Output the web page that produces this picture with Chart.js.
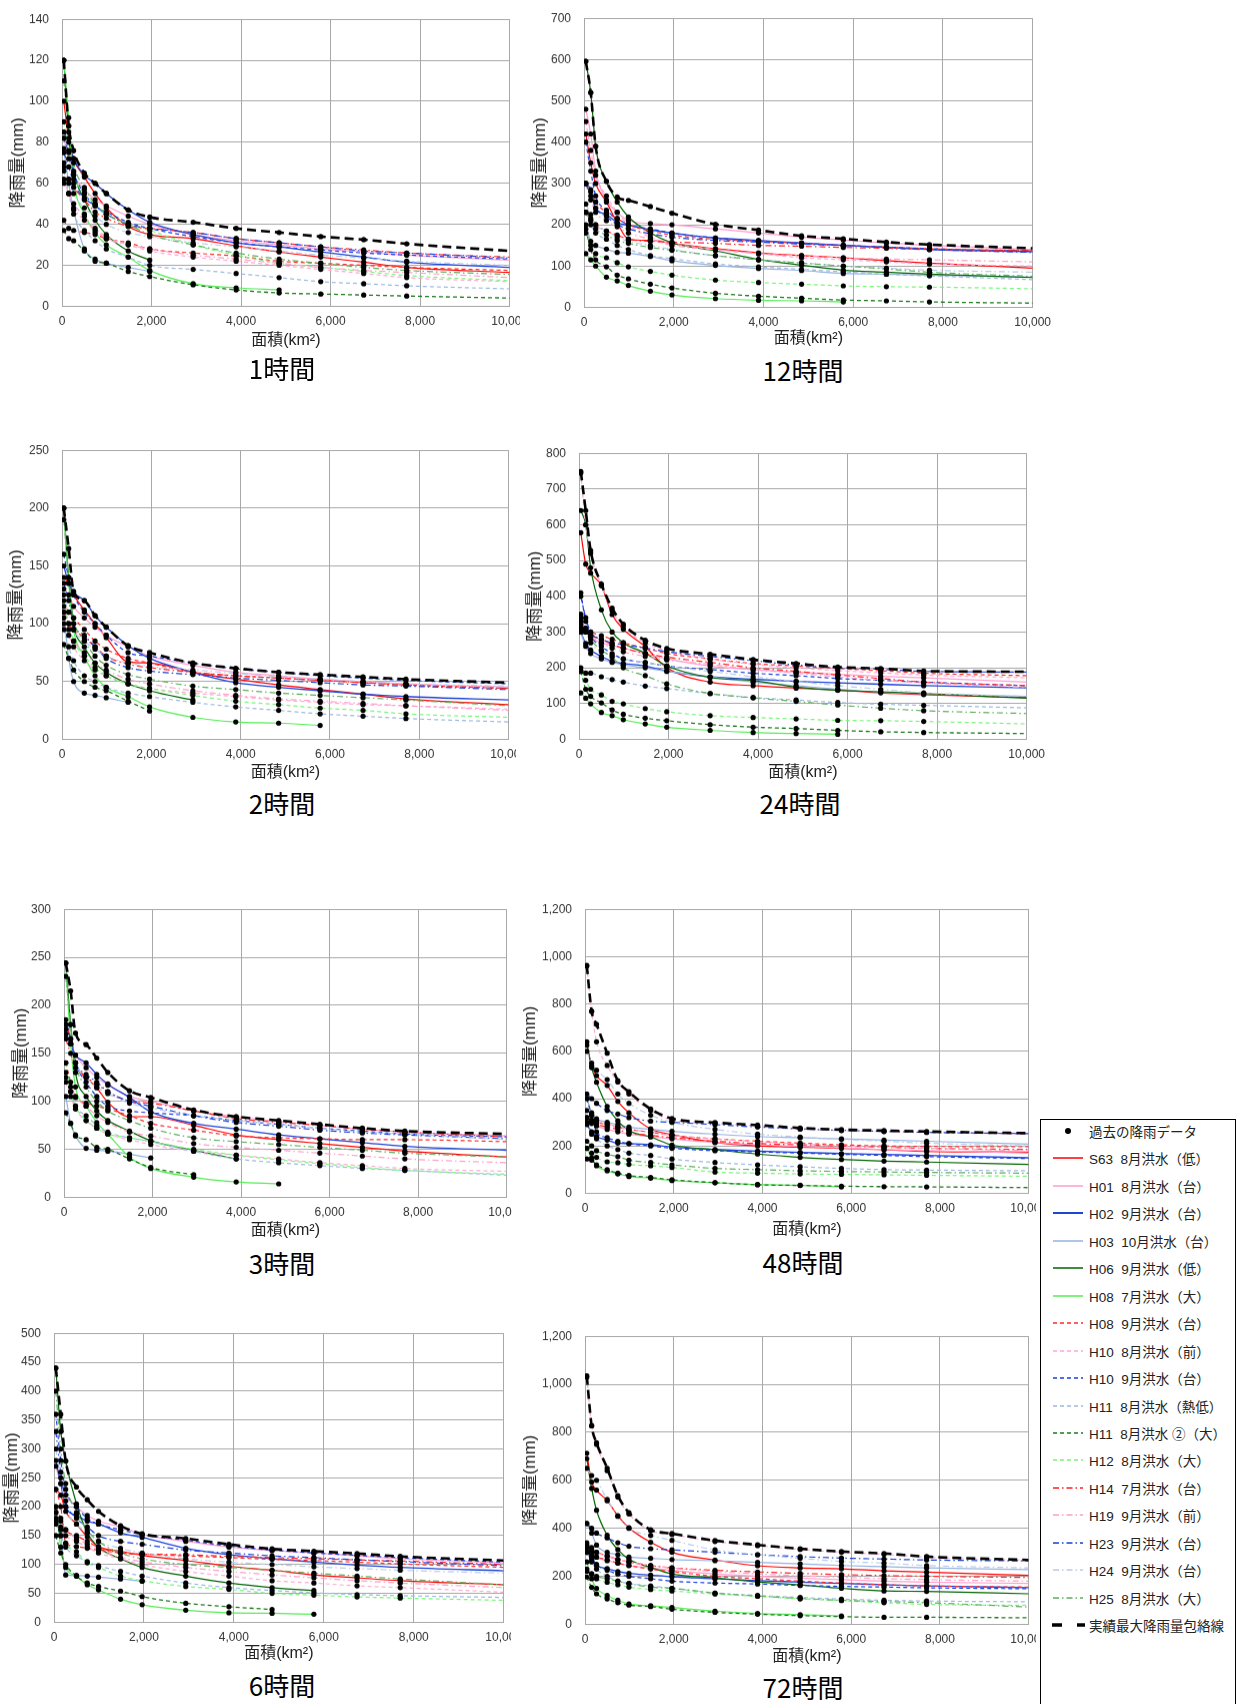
<!DOCTYPE html>
<html lang="ja">
<head>
<meta charset="utf-8">
<script src="https://cdn.jsdelivr.net/npm/chart.js@4.4.1/dist/chart.umd.min.js"></script>
<style>
  html, body { margin: 0; padding: 0; background: #fff; }
  body { width: 1242px; height: 1704px; position: relative; overflow: hidden;
         font-family: 'Liberation Sans', 'Noto Sans CJK JP', sans-serif; }
  .wrap { position: absolute; overflow: hidden; }
  .ptitle { position: absolute; font-family: 'Noto Sans CJK JP', sans-serif; font-size: 26px;
            color: #000; transform: translate(-50%, -50%); white-space: nowrap; line-height: 1; }
  #legend { position: absolute; left: 1040px; top: 1119px; width: 196px; height: 600px;
            border: 1px solid #000; background: #fff; box-sizing: border-box; }
  .lrow { position: absolute; left: 0; height: 20px; display: flex; align-items: center;
          font-size: 13.5px; color: #222; white-space: pre; }
  .lrow svg { margin-left: 11px; margin-right: 4px; }
</style>
</head>
<body>
<div id="legend"></div>
<script>
// ---------------- data ----------------
const AREA = [40, 150, 260, 500, 740, 990, 1480, 1960, 2930, 3890, 4850, 5780, 6740, 7700, 10000];
const DURATIONS = ['1時間', '2時間', '3時間', '6時間', '12時間', '24時間', '48時間', '72時間'];
const Y_MAX  = [140, 250, 300, 500, 700, 800, 1200, 1200];
const Y_STEP = [20, 50, 50, 50, 100, 100, 200, 200];
const X_MAX = 10000, X_STEP = 2000;
const DOT_LABEL = '過去の降雨データ';
const ENV_LABEL = '実績最大降雨量包絡線';
const SERIES = ['S63  8月洪水（低）','H01  8月洪水（台）','H02  9月洪水（台）','H03  10月洪水（台）',
  'H06  9月洪水（低）','H08  7月洪水（大）','H08  9月洪水（台）','H10  8月洪水（前）','H10  9月洪水（台）',
  'H11  8月洪水（熱低）','H11  8月洪水 ②（大）','H12  8月洪水（大）','H14  7月洪水（台）',
  'H19  9月洪水（前）','H23  9月洪水（台）','H24  9月洪水（台）','H25  8月洪水（大）'];
const _ = null;

const rain1h = [
  [100, 82, 72, 63, 55, 48, 39, 35, 33, 29.5, 26.5, 24, 21.5, 19, 16.5],
  [82, 72, 64, 57, 52, 49, 44, 40, 35, 32, 30, 28, 26.5, 25, 22.5],
  [85, 80, 72, 64, 60, 55, 47, 41, 35, 31, 29, 26.5, 24, 21.5, 19],
  [77, 60, 47, 28, 23, 21, 19, 17, _, _, _, _, _, _, _],
  [120, 85, 66, 52, 42, 35, 27, 22.5, _, _, _, _, _, _, _],
  [120, 92, 62, 45, 36, 30, 24, 17.5, 11, 9, 8, _, _, _, _],
  [42, 38, 37, 36, 35, 33, 31, 28, 26, 24.5, 22, 21, 20, 19, 17.5],
  [60, 55, 50, 44, 38, 34, 30, 27, 24, 22, 20, 18, 16, 14, 12],
  [82, 75, 65, 55, 49, 46, 41, 38, 34, 31, 29, 27.5, 26, 25, 23],
  [66, 55, 45, 37, 32, 28, 24, 20, 18, 16, 14, 12, 11, 10, 8.5],
  [37, 33, 32, 27, 22, 21, 17, 14.5, 10.5, 8, 6.5, 6, 5.5, 5, 4],
  [90, 76, 64, 55, 50, 45, 40, 37, 30, 25, 21, 19, 17, 15, 12.5],
  [68, 62, 58, 52, 46, 43, 39, 38, 36, 33, 31, 29, 27.5, 26, 24],
  [62, 55, 48, 42, 37, 33, 30, 28, 25, 23, 21, 19, 17.5, 16.5, 14],
  [75, 68, 60, 53, 49, 45, 40, 38, 36, 33, 31, 29, 27, 26, 23.5],
  [70, 62, 55, 48, 44, 40, 36, 34, 31, 29, 27, 25, 23.5, 22, 20],
  [110, 88, 70, 58, 50, 45, 40, 35, 30, 26, 23, 21, 19, 17.5, 15.5]
];
const env1h = [120, 88, 76, 65, 60, 55, 47, 43.5, 41, 38, 36, 34, 32.5, 30.5, 27];

const rain2h = [
  [140, 135, 125, 112, 100, 88, 67, 66, 58, 52, 47, 43, 39, 35, 30],
  [130, 125, 115, 105, 97, 90, 80, 72, 64, 58, 55, 52, 50, 48, 45],
  [150, 135, 127, 120, 107, 97, 81, 70, 58, 49, 45, 42, 39, 37, 34],
  [110, 70, 50, 40, 38, 36, 32, _, _, _, _, _, _, _, _],
  [200, 140, 100, 80, 66, 58, 48, 42, 34, _, _, _, _, _, _],
  [200, 135, 95, 72, 55, 45, 37, 28, 19, 15, 14, 12, _, _, _],
  [115, 110, 105, 95, 85, 78, 70, 66, 58, 55, 53, 51, 49, 47, 44],
  [100, 90, 80, 68, 60, 55, 48, 44, 40, 37, 34, 32, 30, 29, 26],
  [160, 140, 125, 110, 100, 90, 75, 72, 66, 61, 58, 55, 53, 51, 48],
  [95, 80, 68, 55, 50, 45, 40, 37, 32, 28, 25, 22, 20, 18, 15],
  [82, 70, 60, 50, 45, 42, 33, 24.5, _, _, _, _, _, _, _],
  [120, 100, 85, 72, 62, 55, 48, 44, 38, 33, 30, 27, 25, 22, 19],
  [110, 100, 95, 88, 80, 72, 65, 62, 58, 55, 53, 51, 49, 47, 44],
  [105, 95, 85, 75, 66, 60, 52, 48, 42, 38, 35, 33, 31, 29, 25],
  [135, 120, 100, 90, 80, 70, 62, 59, 56, 53, 51, 49, 47, 46, 43],
  [125, 110, 95, 85, 78, 72, 66, 63, 60, 57, 54, 52, 50, 48, 46],
  [190, 140, 105, 85, 72, 64, 56, 52, 46, 43, 40, 38, 36, 34, 29]
];
const env2h = [200, 165, 128, 120, 107, 97, 81, 75, 66, 61.5, 58, 56, 54, 52, 49];

const rain3h = [
  [180, 165, 140, 125, 114, 99, 84, 84, 75, 65, 60, 56, 52, 48, 42],
  [170, 160, 148, 135, 125, 117, 105, 100, 90, 84, 79, 75, 71, 68, 64],
  [170, 160, 148, 140, 128, 118, 104, 89, 77, 71, 65, 61, 57, 53, 49],
  [105, 77, 64, 51, 49, 48, 45, 41, _, _, _, _, _, _, _],
  [244, 180, 130, 105, 90, 80, 69, 59, 49, 40, _, _, _, _, _],
  [244, 160, 115, 95, 78, 66, 42, 30, 21, 16, 14, _, _, _, _],
  [140, 120, 104, 98, 95, 92, 85, 77, 70, 64, 62, 61, 60, 60, 58],
  [120, 105, 92, 80, 72, 66, 60, 55, 48, 44, 40, 36, 33, 30, 27],
  [185, 165, 140, 120, 105, 95, 90, 88, 85, 80, 76, 72, 69, 66, 63],
  [130, 110, 95, 85, 75, 68, 62, 58, 48, 40, 36, 33, 30, 28, 23],
  [88, 77, 65, 60, 52, 50, 40, 31, 23.5, _, _, _, _, _, _],
  [140, 110, 95, 80, 72, 66, 62, 58, 50, 44, 39, 35, 31, 28, 24],
  [165, 150, 135, 125, 118, 110, 100, 98, 90, 82, 78, 75, 71, 68, 63],
  [125, 115, 105, 95, 85, 78, 68, 64, 56, 52, 49, 46, 43, 40, 36],
  [180, 160, 140, 128, 120, 110, 100, 95, 85, 78, 74, 70, 67, 65, 61],
  [175, 160, 140, 125, 115, 108, 98, 93, 85, 80, 76, 72, 68, 66, 60],
  [230, 180, 140, 115, 100, 90, 80, 72, 62, 58, 55, 52, 49, 46, 42]
];
const env3h = [244, 215, 171, 159, 145, 130, 111, 104, 91, 84, 80, 76, 72, 69, 66];

const rain6h = [
  [230, 220, 192, 170, 148, 131, 123, 116, 107, 97, 90, 82, 77, 72, 65],
  [270, 240, 220, 200, 185, 175, 165, 152, 140, 130, 124, 120, 115, 110, 103],
  [280, 240, 200, 185, 175, 170, 155, 147, 128, 117, 110, 104, 99, 95, 89],
  [190, 150, 82, 81, 80, 78, 75, 71, _, _, _, _, _, _, _],
  [440, 330, 279, 205, 155, 130, 110, 95, 80, 68, 60, 55, _, _, _],
  [200, 130, 95, 80, 65, 56, 40, 30.5, 21, 16.5, 15.5, 14, _, _, _],
  [230, 200, 137, 131, 128, 125, 120, 118, 115, 112, 109, 107, 104, 101, 95],
  [180, 165, 150, 140, 130, 120, 110, 100, 88, 80, 72, 68, 63, 60, 52],
  [360, 280, 230, 200, 180, 170, 160, 152, 142, 132, 125, 120, 116, 112, 104],
  [170, 150, 130, 115, 105, 98, 88, 80, 68, 60, 55, 51, 48, 46, 43],
  [150, 120, 100, 80, 68, 62, 54, 44.5, 33, 27, 22, _, _, _, _],
  [175, 160, 136, 122, 103, 95, 80, 72, 62, 57, 50, 47, 44, 42, 38],
  [200, 180, 160, 150, 140, 130, 120, 118, 117, 114, 112, 110, 108, 106, 100],
  [190, 175, 160, 145, 135, 125, 112, 105, 95, 88, 82, 77, 72, 68, 60],
  [330, 260, 210, 180, 165, 150, 140, 135, 125, 120, 115, 112, 108, 105, 98],
  [300, 250, 200, 170, 155, 140, 128, 120, 110, 104, 100, 96, 93, 90, 85],
  [400, 300, 240, 190, 160, 140, 120, 110, 100, 95, 90, 85, 80, 75, 65]
];
const env6h = [440, 360, 279, 234, 212, 192, 167, 153, 145, 135, 127, 123, 119, 114, 107];

const rain12h = [
  [420, 350, 300, 255, 205, 165, 162, 155, 142, 132, 125, 120, 113, 107, 95],
  [480, 420, 330, 260, 230, 210, 203, 200, 190, 180, 170, 163, 156, 150, 140],
  [300, 285, 240, 225, 205, 199, 188, 180, 168, 162, 156, 150, 145, 140, 135],
  [200, 160, 150, 141, 133, 131, 123, 113, 101.5, 94, 89, 82, 80, 78, 73],
  [596, 520, 390, 305, 255, 219, 180, 156, 137, 116, 102, 90, 85, 80, 72],
  [130, 115, 100, 73, 64, 53, 39, 30, 21, 17, 15.6, 13, _, _, _],
  [300, 280, 255, 230, 215, 200, 185, 175, 165, 160, 155, 150, 146, 142, 137],
  [450, 380, 320, 270, 230, 200, 170, 155, 140, 130, 120, 115, 110, 105, 100],
  [400, 330, 270, 235, 215, 200, 190, 180, 168, 160, 155, 150, 146, 142, 135],
  [230, 200, 180, 165, 150, 140, 125, 118, 105, 98, 92, 86, 80, 76, 67],
  [190, 140, 115, 98, 78, 69, 56, 47, 34, 27, 22, 17.5, 15.5, 13, 10],
  [180, 150, 130, 120, 108, 98, 87, 78, 66, 60, 56, 52, 50, 49, 45],
  [230, 215, 200, 185, 175, 165, 160, 158, 155, 150, 148, 145, 143, 140, 138],
  [300, 260, 230, 210, 195, 180, 165, 150, 140, 130, 125, 120, 117, 115, 110],
  [300, 270, 240, 220, 200, 190, 178, 170, 162, 158, 153, 150, 145, 140, 133],
  [250, 225, 200, 185, 170, 160, 150, 140, 125, 115, 108, 100, 95, 90, 85],
  [230, 210, 190, 175, 162, 155, 145, 138, 125, 115, 107, 100, 93, 85, 75]
];
const env12h = [596, 520, 390, 305, 267, 259, 244, 228, 201, 187, 173, 166, 158, 152, 143];

const rain24h = [
  [578, 490, 465, 430, 349, 308, 259, 200, 160, 150, 143, 138, 130, 125, 117],
  [310, 300, 285, 270, 262, 255, 240, 225, 205, 195, 188, 182, 176, 172, 160],
  [300, 268, 250, 232, 218, 212, 205, 191, 175, 168, 162, 158, 154, 150, 144],
  [300, 260, 240, 225, 215, 208, 200, 190, 175, 160, 150, 140, 132, 127, 120],
  [640, 600, 480, 362, 300, 270, 241, 205, 173, 164, 146, 137, 133, 128, 115],
  [130, 115, 99, 75, 66, 55, 43, 34, 25, 19, 16, 14, _, _, _],
  [320, 310, 300, 290, 280, 270, 255, 240, 225, 212, 205, 198, 192, 185, 178],
  [745, 600, 520, 430, 360, 315, 270, 248, 225, 210, 200, 192, 186, 180, 172],
  [410, 330, 290, 260, 240, 225, 215, 205, 195, 185, 178, 170, 165, 160, 150],
  [200, 185, 185, 175, 167, 160, 149, 142, 128, 117, 110, 103, 98, 95, 88],
  [190, 140, 120, 102, 82, 70, 59, 52, 41, 34, 30, 25, 21, 19, 16],
  [190, 165, 140, 124, 106, 99, 86, 77, 66, 61, 57, 53, 52, 50, 43],
  [310, 300, 290, 280, 265, 255, 240, 230, 215, 200, 190, 180, 170, 160, 150],
  [330, 310, 290, 270, 255, 245, 232, 222, 210, 195, 185, 175, 165, 158, 145],
  [400, 340, 300, 280, 270, 265, 255, 245, 232, 220, 208, 200, 196, 190, 188],
  [350, 300, 270, 245, 235, 225, 215, 205, 190, 175, 162, 150, 140, 130, 120],
  [340, 310, 280, 250, 230, 200, 178, 155, 128, 116, 106, 96, 87, 80, 72]
];
const env24h = [749, 640, 528, 434, 367, 322, 277, 254, 238, 223, 212, 202, 198, 191, 189];

const rain48h = [
  [626, 540, 497, 456, 388, 340, 272, 248, 215, 200, 195, 190, 184, 177, 174],
  [320, 300, 285, 270, 260, 250, 240, 230, 215, 205, 198, 192, 185, 180, 170],
  [290, 260, 240, 225, 212, 210, 205, 195, 185, 178, 173, 168, 164, 160, 150],
  [400, 340, 315, 300, 290, 280, 270, 262, 250, 240, 235, 230, 225, 220, 208],
  [640, 531, 469, 367, 306, 265, 238, 204, 184, 166, 152, 143, 136, 132, 122],
  [190, 150, 116, 95, 82, 71, 64, 54, 45, 37, 34, 27, _, _, _],
  [320, 310, 300, 290, 280, 270, 258, 245, 230, 220, 212, 205, 200, 198, 197],
  [960, 769, 640, 540, 470, 420, 350, 310, 295, 285, 272, 265, 261, 257, 250],
  [400, 330, 260, 235, 220, 210, 200, 190, 180, 175, 170, 165, 160, 155, 147],
  [300, 250, 230, 200, 185, 170, 160, 145, 130, 120, 112, 105, 100, 98, 95],
  [145, 140, 120, 100, 85, 75, 67, 57, 45, 36, 33, 30, 28, 27, 24],
  [190, 170, 152, 133, 129, 122, 116, 109, 90, 85, 82, 80, 78, 76, 72],
  [300, 295, 290, 280, 270, 255, 245, 235, 220, 210, 205, 200, 195, 190, 185],
  [350, 330, 310, 295, 280, 270, 258, 245, 230, 218, 208, 200, 195, 190, 180],
  [420, 400, 380, 350, 335, 320, 305, 300, 290, 280, 272, 266, 262, 258, 252],
  [600, 550, 520, 480, 420, 380, 330, 300, 270, 250, 238, 228, 220, 212, 200],
  [220, 200, 180, 165, 155, 140, 130, 120, 105, 100, 95, 92, 90, 88, 85]
];
const env48h = [963, 769, 714, 592, 476, 429, 356, 316, 299, 288, 276, 269, 265, 261, 254];

const rain72h = [
  [713, 593, 559, 515, 452, 402, 342, 300, 268, 244, 235, 231, 223, 217, 204],
  [320, 300, 280, 265, 255, 245, 235, 225, 210, 200, 192, 186, 180, 176, 170],
  [300, 270, 245, 232, 220, 212, 205, 198, 190, 182, 176, 170, 165, 160, 153],
  [420, 380, 330, 300, 290, 280, 275, 270, 265, 258, 252, 245, 240, 235, 228],
  [690, 566, 475, 371, 311, 271, 237, 210, 193, 177, 164, 150, 139, 137, 127],
  [260, 190, 150, 120, 100, 85, 77, 70, 55, 45, 40, 35, _, _, _],
  [300, 290, 280, 270, 255, 245, 230, 220, 200, 190, 180, 172, 165, 160, 155],
  [1030, 827, 750, 640, 530, 460, 390, 375, 345, 328, 312, 300, 292, 280, 266],
  [320, 280, 250, 225, 210, 200, 190, 180, 172, 168, 162, 158, 155, 152, 148],
  [300, 260, 230, 200, 180, 170, 160, 150, 130, 120, 112, 105, 100, 97, 94],
  [197, 154, 127, 106, 90, 80, 74, 63, 50, 42, 36, 32, 29, 29, 27],
  [230, 210, 190, 175, 165, 155, 145, 139, 126, 117, 106, 99, 90, 83, 79],
  [330, 310, 300, 285, 270, 260, 245, 235, 225, 218, 212, 207, 203, 200, 195],
  [340, 320, 300, 285, 270, 260, 245, 235, 220, 210, 202, 196, 190, 186, 180],
  [420, 400, 380, 360, 340, 325, 315, 310, 300, 290, 282, 276, 272, 268, 264],
  [650, 620, 600, 520, 450, 400, 370, 350, 310, 290, 275, 262, 255, 245, 235],
  [220, 210, 200, 190, 180, 170, 155, 150, 130, 118, 108, 100, 95, 90, 72]
];
const env72h = [1035, 827, 756, 650, 536, 465, 394, 378, 349, 331, 315, 303, 295, 282, 268];

const RAIN = [rain1h, rain2h, rain3h, rain6h, rain12h, rain24h, rain48h, rain72h];
const ENV  = [env1h, env2h, env3h, env6h, env12h, env24h, env48h, env72h];

// ---------------- styles ----------------
const COLORS = ['#FF0000','#FF9ECF','#1F45D6','#95B3E0','#006400','#55EE55',
  '#FF2A2A','#FFA8D2','#1A3FE0','#9DB9E2','#1E7B1E','#77F777',
  '#FF2020','#FF9FC8','#1A40D8','#B8CCE8','#5FAF5F'];
const SOLID = [], DASH = [4, 3], DASHDOT = [6, 3, 1.5, 3];
const DASHES = [SOLID,SOLID,SOLID,SOLID,SOLID,SOLID,DASH,DASH,DASH,DASH,DASH,DASH,DASHDOT,DASHDOT,DASHDOT,DASHDOT,DASHDOT];
const WIDTHS = [1.2,1.2,1.3,1.2,1.2,1.2,1.2,1.2,1.2,1.2,1.3,1.2,1.2,1.2,1.2,1.2,1.2];
const FAMILY = "'Liberation Sans', 'Noto Sans CJK JP', sans-serif";
const GRID = '#A8A8A8';

// layout of each panel (pixels)
const PANELS = [
  {d:0, L:62,  R:512,  T:9,    B:306,  cx:0,   clip:520,  yT:18,  xT:34, tx:282, ty:368},
  {d:4, L:584, R:1035, T:8,    B:307,  cx:522, clip:1062, yT:540, xT:31, tx:803, ty:370},
  {d:1, L:62,  R:511,  T:440,  B:739,  cx:0,   clip:516,  yT:16,  xT:33, tx:282, ty:803},
  {d:5, L:579, R:1029, T:443,  B:739,  cx:522, clip:1062, yT:535, xT:33, tx:800, ty:803},
  {d:2, L:64,  R:509,  T:899,  B:1197, cx:0,   clip:512,  yT:21,  xT:33, tx:282, ty:1263},
  {d:6, L:585, R:1031, T:899,  B:1193, cx:522, clip:1036, yT:530, xT:36, tx:803, ty:1262},
  {d:3, L:54,  R:506,  T:1323, B:1622, cx:0,   clip:511,  yT:12,  xT:31, tx:282, ty:1685},
  {d:7, L:585, R:1031, T:1326, B:1624, cx:522, clip:1036, yT:530, xT:32, tx:803, ty:1687}
];

const PAD_TOP = 10, PAD_RIGHT = 24;
const X_TITLE_SIZE = 16, Y_TITLE_SIZE = 17;

function toPoints(vals) {
  return AREA.map((a, i) => ({x: a, y: vals[i]}));
}

PANELS.forEach(p => {
  const rain = RAIN[p.d], env = ENV[p.d];
  const xH = p.xT + X_TITLE_SIZE * 1.2 / 2;
  const yW = p.L - p.cx;
  const w = p.R + PAD_RIGHT - p.cx;
  const h = (p.B + xH) - (p.T - PAD_TOP);

  const wrap = document.createElement('div');
  wrap.className = 'wrap';
  wrap.style.left = p.cx + 'px';
  wrap.style.top = (p.T - PAD_TOP) + 'px';
  wrap.style.width = Math.min(w, p.clip - p.cx) + 'px';
  wrap.style.height = h + 'px';
  const cv = document.createElement('canvas');
  cv.width = w; cv.height = h;
  cv.style.width = w + 'px'; cv.style.height = h + 'px';
  wrap.appendChild(cv);
  document.body.appendChild(wrap);

  const title = document.createElement('div');
  title.className = 'ptitle';
  title.textContent = DURATIONS[p.d];
  title.style.left = p.tx + 'px';
  title.style.top = p.ty + 'px';
  document.body.appendChild(title);

  // past rainfall data points (from every series and the envelope; the last area is only a line end)
  const dots = [];
  rain.concat([env]).forEach(vals => {
    vals.forEach((v, i) => { if (v !== null && i < AREA.length - 1) dots.push({x: AREA[i], y: v}); });
  });

  const datasets = [{
    label: DOT_LABEL, data: dots, showLine: false, pointRadius: 2.6,
    pointBackgroundColor: '#000', pointBorderColor: '#000', pointBorderWidth: 0, order: 0
  }, {
    label: ENV_LABEL, data: toPoints(env), showLine: true, borderColor: '#000', borderWidth: 2.6,
    borderDash: [9, 5], pointRadius: 0, cubicInterpolationMode: 'monotone', order: 1
  }];
  rain.forEach((vals, s) => {
    datasets.push({
      label: SERIES[s], data: toPoints(vals), showLine: true, borderColor: COLORS[s],
      borderWidth: WIDTHS[s], borderDash: DASHES[s], pointRadius: 0,
      cubicInterpolationMode: 'monotone', spanGaps: false, order: 2 + (16 - s)
    });
  });

  const yTitlePad = p.yT - p.cx - Y_TITLE_SIZE * 1.2 / 2;

  new Chart(cv, {
    type: 'scatter',
    data: {datasets},
    options: {
      responsive: false, animation: false, devicePixelRatio: 1,
      layout: {padding: {top: PAD_TOP, right: PAD_RIGHT, left: 0, bottom: 0}},
      plugins: {legend: {display: false}, tooltip: {enabled: false}},
      scales: {
        x: {
          type: 'linear', min: 0, max: X_MAX,
          ticks: {stepSize: X_STEP, maxRotation: 0, minRotation: 0, autoSkip: false, padding: 8,
                  color: '#333', font: {size: 12, family: FAMILY},
                  callback: v => v.toLocaleString('en-US')},
          grid: {color: GRID, lineWidth: 1, drawTicks: false},
          border: {color: GRID, width: 1},
          title: {display: true, text: '面積(km²)', color: '#222',
                  font: {size: X_TITLE_SIZE, family: FAMILY}, padding: {top: 0, bottom: 0}},
          afterFit: s => { s.height = xH; }
        },
        y: {
          type: 'linear', min: 0, max: Y_MAX[p.d],
          ticks: {stepSize: Y_STEP[p.d], padding: 13, color: '#333', font: {size: 12, family: FAMILY},
                  callback: v => v.toLocaleString('en-US')},
          grid: {color: GRID, lineWidth: 1, drawTicks: false},
          border: {color: GRID, width: 1},
          title: {display: true, text: '降雨量(mm)', color: '#222',
                  font: {size: Y_TITLE_SIZE, family: FAMILY}, padding: {top: yTitlePad, bottom: 0}},
          afterFit: s => { s.width = yW; }
        }
      }
    }
  });
});

// ---------------- legend ----------------
const legend = document.getElementById('legend');
const ROW0 = 11, ROW_STEP = 27.45;
function addRow(i, svgInner, text) {
  const row = document.createElement('div');
  row.className = 'lrow';
  row.style.top = (ROW0 + i * ROW_STEP - 10) + 'px';
  row.innerHTML = '<svg width="33" height="10" viewBox="0 0 33 10">' + svgInner + '</svg>';
  const span = document.createElement('span');
  span.textContent = text;
  row.appendChild(span);
  legend.appendChild(row);
}
addRow(0, '<circle cx="16" cy="5" r="3" fill="#000"/>', DOT_LABEL);
SERIES.forEach((name, s) => {
  const dash = DASHES[s].length ? ' stroke-dasharray="' + DASHES[s].join(',') + '"' : '';
  const lw = s === 2 ? 2 : 1.5;
  addRow(s + 1, '<line x1="1" y1="5" x2="31" y2="5" stroke="' + COLORS[s] + '" stroke-width="' + lw + '"' + dash + '/>', name);
});
addRow(SERIES.length + 1, '<line x1="0" y1="5" x2="33" y2="5" stroke="#000" stroke-width="3.5" stroke-dasharray="10,15"/>', ENV_LABEL);
</script>
</body>
</html>
